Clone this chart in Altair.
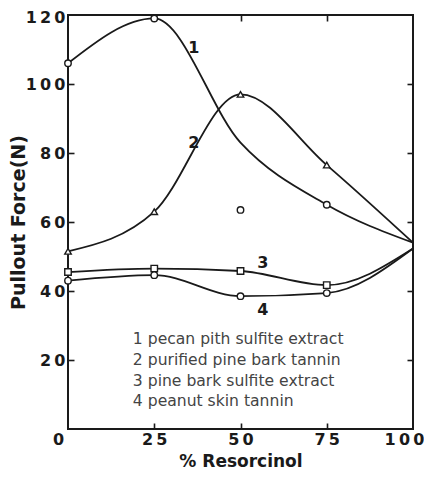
import altair as alt
import pandas as pd

# ---- data ----
x_values = [0, 25, 50, 75, 100]
curve_1 = [106, 119, 83, 65, 54]
curve_2 = [51.5, 63, 97, 76.5, 54]
curve_3 = [45.5, 46.5, 45.8, 41.7, 52.3]
curve_4 = [43, 44.6, 38.5, 39.4, 52.3]

marker_x = [0, 25, 50, 75]
marker_1 = [106, 119, 63.5, 65]
marker_2 = [51.5, 63, 97, 76.5]
marker_3 = [45.5, 46.5, 45.8, 41.7]
marker_4 = [43, 44.6, 38.5, 39.4]

series_ids = ["1", "2", "3", "4"]
series_names = [
    "pecan pith sulfite extract",
    "purified pine bark tannin",
    "pine bark sulfite extract",
    "peanut skin tannin",
]

# curve number labels (data coordinates)
label_x = [36.5, 36.5, 56.5, 56.5]
label_y = [110.5, 83, 48, 34.5]

# legend block (data coordinates)
legend_x = 18.8
legend_y = [26.1, 20.0, 13.9, 8.1]

x_ticks = [0, 25, 50, 75, 100]
y_ticks = [20, 40, 60, 80, 100, 120]
inner_x_ticks = [25, 50, 75]
inner_y_ticks = [20, 40, 60, 80, 100]

# ---- tables ----
curves = [curve_1, curve_2, curve_3, curve_4]
markers = [marker_1, marker_2, marker_3, marker_4]
curve_df = pd.DataFrame(
    [{"series": s, "x": x, "y": y} for s, c in zip(series_ids, curves) for x, y in zip(x_values, c)]
)
marker_df = pd.DataFrame(
    [{"series": s, "x": x, "y": y} for s, m in zip(series_ids, markers) for x, y in zip(marker_x, m)]
)
label_df = pd.DataFrame({"text": series_ids, "x": label_x, "y": label_y})
legend_df = pd.DataFrame(
    {"text": [f"{i} {n}" for i, n in zip(series_ids, series_names)], "x": [legend_x] * 4, "y": legend_y}
)

W, H = 345, 414
INK = "#1a1a1a"
xscale = alt.Scale(domain=[0, 100], nice=False, zero=False)
yscale = alt.Scale(domain=[0, 120], nice=False, zero=False)
spaced = "join(split(datum.label, ''), '\u2009')"


def tick_axis(orient, offset, values):
    # an axis moved onto the opposite edge so that its ticks point into the plot
    return alt.Axis(
        orient=orient, offset=offset, values=values, labels=True, labelExpr="''",
        labelOpacity=0, domain=True, domainOpacity=0, grid=False, ticks=True,
        tickSize=6, tickColor=INK, tickWidth=1.6, title=None,
    )


lines = alt.Chart(curve_df).mark_line(
    interpolate="monotone", color=INK, strokeWidth=1.8
).encode(
    x=alt.X("x:Q", scale=xscale, axis=alt.Axis(
        orient="bottom", values=x_ticks, ticks=False, domain=False, grid=False,
        labelExpr=spaced, labelFlush=False, labelPadding=2,
        labelOffset={"condition": [{"test": "datum.value == 0", "value": -10},
                                   {"test": "datum.value == 100", "value": -9}],
                     "value": 0},
        title="% Resorcinol", titleY=32, titleBaseline="middle", titleFontSize=17,
    )),
    y=alt.Y("y:Q", scale=yscale, axis=alt.Axis(
        orient="left", values=y_ticks, ticks=False, domain=False, grid=False,
        labelExpr=spaced, labelPadding=3, labelFlush=False,
        labelOffset={"condition": {"test": "datum.value == 120", "value": 2}, "value": 0},
        title="Pullout Force(N)", titleAngle=270, titleX=-50, titleY=H / 2,
        titleAlign="center", titleBaseline="middle",
    )),
    detail="series:N",
)

points = alt.Chart(marker_df).mark_point(
    fill="white", stroke=INK, strokeWidth=1.4, size=42, opacity=1, filled=False
).encode(
    x=alt.X("x:Q", scale=xscale, axis=tick_axis("top", -H, inner_x_ticks)),
    y=alt.Y("y:Q", scale=yscale, axis=tick_axis("right", -W, inner_y_ticks)),
    shape=alt.Shape("series:N", scale=alt.Scale(
        domain=series_ids, range=["circle", "triangle-up", "square", "circle"]), legend=None),
)

labels = alt.Chart(label_df).mark_text(
    font="DejaVu Sans", fontWeight="bold", fontSize=16, color=INK, baseline="middle"
).encode(
    x=alt.X("x:Q", scale=xscale, axis=tick_axis("bottom", -H, inner_x_ticks)),
    y=alt.Y("y:Q", scale=yscale, axis=tick_axis("left", -W, inner_y_ticks)),
    text="text:N",
)

legend = alt.Chart(legend_df).mark_text(
    font="DejaVu Sans", fontSize=15.6, color="#444444", align="left", baseline="middle"
).encode(
    x=alt.X("x:Q", scale=xscale, axis=None),
    y=alt.Y("y:Q", scale=yscale, axis=None),
    text="text:N",
)

chart = alt.layer(lines, points, labels, legend).properties(
    width=W, height=H,
    autosize=alt.AutoSizeParams(type="none"),
    padding={"left": 60, "top": 7, "right": 11, "bottom": 40},
).configure_view(
    stroke=INK, strokeWidth=2
).configure_axis(
    labelFont="DejaVu Sans", labelFontWeight="bold", labelFontSize=16, labelColor=INK,
    titleFont="DejaVu Sans", titleFontWeight="bold", titleFontSize=19, titleColor=INK,
)

chart.save("out.html", embed_options={"renderer": "svg", "actions": False})
